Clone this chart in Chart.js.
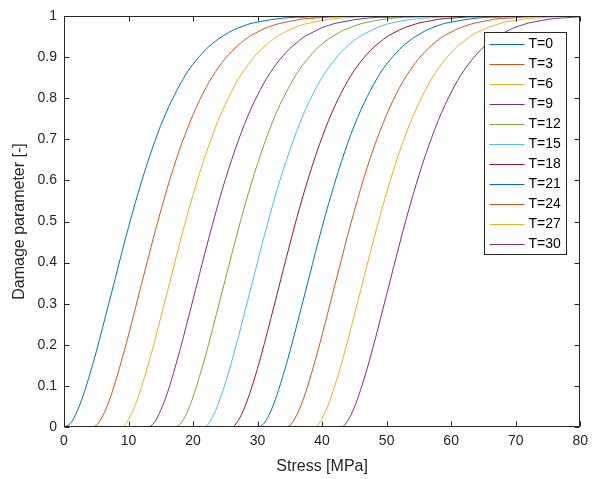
<!DOCTYPE html>
<html>
<head>
<meta charset="utf-8">
<title>Damage parameter vs stress</title>
<script src="https://cdn.jsdelivr.net/npm/chart.js@4.4.1/dist/chart.umd.min.js"></script>
<style>
  html, body { margin: 0; padding: 0; background: #fff; }
  #wrap { width: 594px; height: 479px; }
</style>
</head>
<body>
<div id="wrap"><canvas id="damageChart" width="594" height="479"></canvas></div>
<script>
// stress grid shared by every curve (MPa)
const stress = [
  0, 1, 2, 3, 4, 5, 6, 7, 8, 9,
  10, 11, 12, 13, 14, 15, 16, 17, 18, 19,
  20, 21, 22, 23, 24, 25, 26, 27, 28, 29,
  30, 31, 32, 33, 34, 35, 36, 37, 38, 39,
  40, 41, 42, 43, 44, 45, 46, 47, 48, 49,
  50, 51, 52, 53, 54, 55, 56, 57, 58, 59,
  60, 61, 62, 63, 64, 65, 66, 67, 68, 69,
  70, 71, 72, 73, 74, 75, 76, 77, 78, 79,
  80
];

const seriesLabels = ["T=0", "T=3", "T=6", "T=9", "T=12", "T=15", "T=18", "T=21", "T=24", "T=27", "T=30"];

// damage parameter, one value per stress point
const dT0 = [
  0, 0.009, 0.037, 0.078, 0.128, 0.183, 0.243, 0.304, 0.365, 0.427,
  0.486, 0.543, 0.596, 0.646, 0.692, 0.734, 0.771, 0.804, 0.834, 0.861,
  0.883, 0.902, 0.919, 0.933, 0.945, 0.955, 0.964, 0.971, 0.977, 0.982,
  0.985, 0.988, 0.991, 0.993, 0.995, 0.996, 0.997, 0.997, 0.998, 0.998,
  0.999, 0.999, 1, 1, 1, 1, 1, 1, 1, 1,
  1, 1, 1, 1, 1, 1, 1, 1, 1, 1,
  1, 1, 1, 1, 1, 1, 1, 1, 1, 1,
  1, 1, 1, 1, 1, 1, 1, 1, 1, 1,
  1
];
const dT3 = [
  0, 0, 0, 0, 0, 0.004, 0.027, 0.064, 0.112, 0.166,
  0.224, 0.285, 0.347, 0.408, 0.469, 0.526, 0.581, 0.632, 0.679, 0.721,
  0.760, 0.795, 0.826, 0.853, 0.876, 0.897, 0.914, 0.929, 0.942, 0.953,
  0.961, 0.969, 0.975, 0.980, 0.984, 0.987, 0.990, 0.993, 0.994, 0.995,
  0.996, 0.997, 0.998, 0.998, 0.999, 0.999, 1, 1, 1, 1,
  1, 1, 1, 1, 1, 1, 1, 1, 1, 1,
  1, 1, 1, 1, 1, 1, 1, 1, 1, 1,
  1, 1, 1, 1, 1, 1, 1, 1, 1, 1,
  1
];
const dT6 = [
  0, 0, 0, 0, 0, 0, 0, 0, 0, 0,
  0.018, 0.052, 0.097, 0.149, 0.206, 0.267, 0.328, 0.390, 0.451, 0.510,
  0.565, 0.617, 0.665, 0.709, 0.750, 0.785, 0.817, 0.846, 0.870, 0.891,
  0.910, 0.925, 0.938, 0.950, 0.959, 0.967, 0.974, 0.979, 0.983, 0.986,
  0.989, 0.992, 0.994, 0.995, 0.996, 0.997, 0.998, 0.998, 0.999, 0.999,
  1, 1, 1, 1, 1, 1, 1, 1, 1, 1,
  1, 1, 1, 1, 1, 1, 1, 1, 1, 1,
  1, 1, 1, 1, 1, 1, 1, 1, 1, 1,
  1
];
const dT9 = [
  0, 0, 0, 0, 0, 0, 0, 0, 0, 0,
  0, 0, 0, 0, 0.011, 0.041, 0.082, 0.133, 0.189, 0.249,
  0.310, 0.372, 0.433, 0.492, 0.549, 0.602, 0.651, 0.696, 0.738, 0.775,
  0.808, 0.837, 0.863, 0.885, 0.904, 0.921, 0.934, 0.947, 0.956, 0.964,
  0.972, 0.977, 0.982, 0.985, 0.988, 0.991, 0.993, 0.995, 0.996, 0.997,
  0.997, 0.998, 0.998, 0.999, 0.999, 1, 1, 1, 1, 1,
  1, 1, 1, 1, 1, 1, 1, 1, 1, 1,
  1, 1, 1, 1, 1, 1, 1, 1, 1, 1,
  1
];
const dT12 = [
  0, 0, 0, 0, 0, 0, 0, 0, 0, 0,
  0, 0, 0, 0, 0, 0, 0, 0, 0.007, 0.033,
  0.073, 0.123, 0.177, 0.237, 0.298, 0.359, 0.421, 0.480, 0.538, 0.591,
  0.641, 0.687, 0.730, 0.768, 0.801, 0.831, 0.858, 0.881, 0.900, 0.918,
  0.932, 0.944, 0.954, 0.963, 0.970, 0.976, 0.981, 0.985, 0.988, 0.991,
  0.993, 0.995, 0.996, 0.997, 0.997, 0.998, 0.998, 0.999, 0.999, 1,
  1, 1, 1, 1, 1, 1, 1, 1, 1, 1,
  1, 1, 1, 1, 1, 1, 1, 1, 1, 1,
  1
];
const dT15 = [
  0, 0, 0, 0, 0, 0, 0, 0, 0, 0,
  0, 0, 0, 0, 0, 0, 0, 0, 0, 0,
  0, 0, 0.002, 0.024, 0.060, 0.107, 0.160, 0.218, 0.279, 0.341,
  0.402, 0.463, 0.521, 0.576, 0.627, 0.674, 0.717, 0.757, 0.792, 0.823,
  0.851, 0.874, 0.895, 0.913, 0.928, 0.941, 0.952, 0.960, 0.968, 0.975,
  0.980, 0.984, 0.987, 0.990, 0.992, 0.994, 0.995, 0.996, 0.997, 0.998,
  0.998, 0.999, 0.999, 1, 1, 1, 1, 1, 1, 1,
  1, 1, 1, 1, 1, 1, 1, 1, 1, 1,
  1
];
const dT18 = [
  0, 0, 0, 0, 0, 0, 0, 0, 0, 0,
  0, 0, 0, 0, 0, 0, 0, 0, 0, 0,
  0, 0, 0, 0, 0, 0, 0, 0.016, 0.048, 0.092,
  0.143, 0.200, 0.261, 0.322, 0.384, 0.445, 0.504, 0.560, 0.612, 0.661,
  0.705, 0.746, 0.782, 0.814, 0.843, 0.868, 0.889, 0.908, 0.924, 0.937,
  0.949, 0.958, 0.966, 0.973, 0.978, 0.983, 0.986, 0.989, 0.992, 0.994,
  0.995, 0.996, 0.997, 0.998, 0.998, 0.999, 0.999, 1, 1, 1,
  1, 1, 1, 1, 1, 1, 1, 1, 1, 1,
  1
];
const dT21 = [
  0, 0, 0, 0, 0, 0, 0, 0, 0, 0,
  0, 0, 0, 0, 0, 0, 0, 0, 0, 0,
  0, 0, 0, 0, 0, 0, 0, 0, 0, 0,
  0, 0.009, 0.037, 0.078, 0.128, 0.183, 0.243, 0.304, 0.365, 0.427,
  0.486, 0.543, 0.596, 0.646, 0.692, 0.734, 0.771, 0.804, 0.834, 0.861,
  0.883, 0.902, 0.919, 0.933, 0.945, 0.955, 0.964, 0.971, 0.977, 0.982,
  0.985, 0.988, 0.991, 0.993, 0.995, 0.996, 0.997, 0.997, 0.998, 0.998,
  0.999, 0.999, 1, 1, 1, 1, 1, 1, 1, 1,
  1
];
const dT24 = [
  0, 0, 0, 0, 0, 0, 0, 0, 0, 0,
  0, 0, 0, 0, 0, 0, 0, 0, 0, 0,
  0, 0, 0, 0, 0, 0, 0, 0, 0, 0,
  0, 0, 0, 0, 0, 0.004, 0.027, 0.064, 0.112, 0.166,
  0.224, 0.285, 0.347, 0.408, 0.469, 0.526, 0.581, 0.632, 0.679, 0.721,
  0.760, 0.795, 0.826, 0.853, 0.876, 0.897, 0.914, 0.929, 0.942, 0.953,
  0.961, 0.969, 0.975, 0.980, 0.984, 0.987, 0.990, 0.993, 0.994, 0.995,
  0.996, 0.997, 0.998, 0.998, 0.999, 0.999, 1, 1, 1, 1,
  1
];
const dT27 = [
  0, 0, 0, 0, 0, 0, 0, 0, 0, 0,
  0, 0, 0, 0, 0, 0, 0, 0, 0, 0,
  0, 0, 0, 0, 0, 0, 0, 0, 0, 0,
  0, 0, 0, 0, 0, 0, 0, 0, 0, 0.001,
  0.021, 0.056, 0.102, 0.154, 0.212, 0.273, 0.334, 0.396, 0.457, 0.515,
  0.570, 0.622, 0.670, 0.713, 0.753, 0.788, 0.820, 0.848, 0.872, 0.893,
  0.911, 0.927, 0.939, 0.951, 0.960, 0.967, 0.974, 0.979, 0.984, 0.987,
  0.989, 0.992, 0.994, 0.995, 0.996, 0.997, 0.998, 0.998, 0.999, 0.999,
  1
];
const dT30 = [
  0, 0, 0, 0, 0, 0, 0, 0, 0, 0,
  0, 0, 0, 0, 0, 0, 0, 0, 0, 0,
  0, 0, 0, 0, 0, 0, 0, 0, 0, 0,
  0, 0, 0, 0, 0, 0, 0, 0, 0, 0,
  0, 0, 0, 0, 0.016, 0.048, 0.092, 0.143, 0.200, 0.261,
  0.322, 0.384, 0.445, 0.504, 0.560, 0.612, 0.661, 0.705, 0.746, 0.782,
  0.814, 0.843, 0.868, 0.889, 0.908, 0.924, 0.937, 0.949, 0.958, 0.966,
  0.973, 0.978, 0.983, 0.986, 0.989, 0.992, 0.994, 0.995, 0.996, 0.997,
  0.998
];

const seriesValues = [dT0, dT3, dT6, dT9, dT12, dT15, dT18, dT21, dT24, dT27, dT30];

// MATLAB default line colour order (wraps after 7)
const lineColors = ["#0072BD", "#D95319", "#EDB120", "#7E2F8E", "#77AC30", "#4DBEEE", "#A2142F",
                    "#0072BD", "#D95319", "#EDB120", "#7E2F8E"];

const axisColor = "#262626";
const fontFamily = "'Liberation Sans', Arial, Helvetica, sans-serif";

// box around the axes with inward ticks on all four sides
const matlabFrame = {
  id: "matlabFrame",
  afterDraw(chart) {
    const { ctx, chartArea: a, scales } = chart;
    const L = Math.round(a.left) + 0.5;
    const R = Math.round(a.right) - 0.5;
    const T = Math.round(a.top) + 0.5;
    const B = Math.round(a.bottom) - 0.5;
    const len = 5;
    ctx.save();
    ctx.strokeStyle = axisColor;
    ctx.lineWidth = 1;
    ctx.beginPath();
    ctx.rect(L, T, R - L, B - T);
    scales.x.ticks.forEach((t) => {
      const px = Math.round(scales.x.getPixelForValue(t.value)) + 0.5;
      ctx.moveTo(px, B); ctx.lineTo(px, B - len);
      ctx.moveTo(px, T); ctx.lineTo(px, T + len);
    });
    scales.y.ticks.forEach((t) => {
      const py = Math.round(scales.y.getPixelForValue(t.value)) + 0.5;
      ctx.moveTo(L, py); ctx.lineTo(L + len, py);
      ctx.moveTo(R, py); ctx.lineTo(R - len, py);
    });
    ctx.stroke();
    ctx.restore();
  }
};

// legend box in the upper right corner of the axes
const boxLegend = {
  id: "boxLegend",
  afterDraw(chart) {
    const { ctx, chartArea: a } = chart;
    const sets = chart.data.datasets;
    const rowH = 20;
    const w = 82;
    const h = sets.length * rowH + 2;
    const left = Math.round(a.right) - 14 - w + 0.5;
    const top = Math.round(a.top) + 16 + 0.5;
    ctx.save();
    ctx.fillStyle = "#fff";
    ctx.fillRect(left, top, w, h);
    ctx.strokeStyle = axisColor;
    ctx.lineWidth = 1;
    ctx.strokeRect(left, top, w, h);
    ctx.font = "14px " + fontFamily;
    ctx.textBaseline = "middle";
    ctx.textAlign = "left";
    sets.forEach((ds, i) => {
      const yy = Math.round(top + 11 + rowH * i) + 0.5;
      ctx.strokeStyle = ds.borderColor;
      ctx.beginPath();
      ctx.moveTo(left + 5, yy);
      ctx.lineTo(left + 40, yy);
      ctx.stroke();
      ctx.fillStyle = "#000";
      ctx.fillText(ds.label, left + 44, yy);
    });
    ctx.restore();
  }
};

const ctx = document.getElementById("damageChart").getContext("2d");
new Chart(ctx, {
  type: "line",
  data: {
    datasets: seriesLabels.map((label, i) => ({
      label: label,
      data: stress.map((s, j) => ({ x: s, y: seriesValues[i][j] })),
      borderColor: lineColors[i],
      backgroundColor: lineColors[i],
      borderWidth: 1,
      pointRadius: 0,
      fill: false,
      cubicInterpolationMode: "monotone",
    })),
  },
  options: {
    responsive: false,
    animation: false,
    devicePixelRatio: 1,
    layout: { padding: { top: 16, right: 11, left: 0, bottom: 0 } },
    plugins: {
      legend: { display: false },
      tooltip: { enabled: false },
    },
    scales: {
      x: {
        type: "linear",
        min: 0,
        max: 80,
        grid: { display: false, drawTicks: false },
        border: { display: false },
        ticks: {
          stepSize: 10,
          color: axisColor,
          font: { family: fontFamily, size: 14 },
          padding: 6,
          maxRotation: 0,
        },
        title: {
          display: true,
          text: "Stress [MPa]",
          color: axisColor,
          font: { family: fontFamily, size: 16 },
          padding: { top: 0, bottom: 3 },
        },
        afterFit(scale) { scale.height = 52; },
      },
      y: {
        type: "linear",
        min: 0,
        max: 1,
        grid: { display: false, drawTicks: false },
        border: { display: false },
        ticks: {
          stepSize: 0.1,
          color: axisColor,
          font: { family: fontFamily, size: 14 },
          padding: 7,
          callback: (v) => String(Math.round(v * 10) / 10),
        },
        title: {
          display: true,
          text: "Damage parameter [-]",
          color: axisColor,
          font: { family: fontFamily, size: 16 },
          padding: { top: 10, bottom: 0 },
        },
        afterFit(scale) { scale.width = 64; },
      },
    },
  },
  plugins: [matlabFrame, boxLegend],
});
</script>
</body>
</html>
